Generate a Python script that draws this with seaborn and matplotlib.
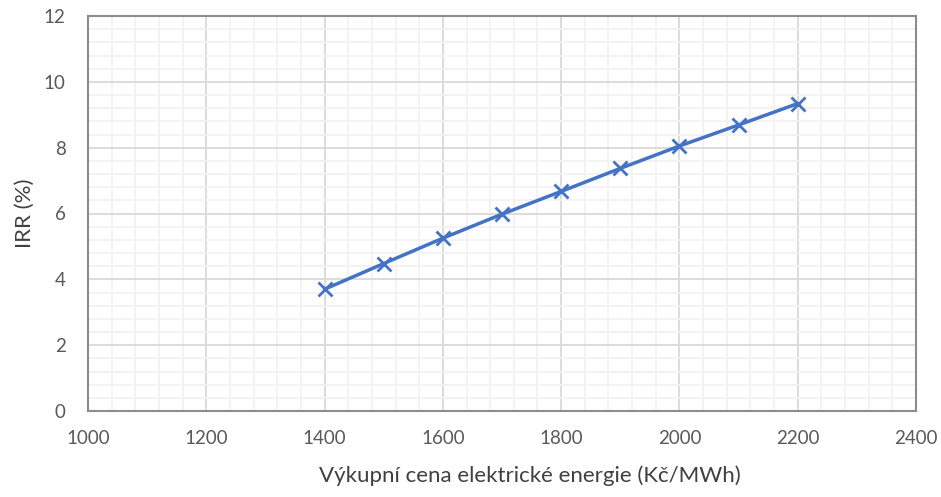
import matplotlib
matplotlib.use("Agg")
import matplotlib.pyplot as plt
import seaborn as sns
import pandas as pd
import numpy as np
from matplotlib.ticker import MultipleLocator

# Data
price = [1400, 1500, 1600, 1700, 1800, 1900, 2000, 2100, 2200]
irr = [3.70, 4.48, 5.25, 5.98, 6.67, 7.37, 8.05, 8.69, 9.34]
x_label = "Výkupní cena elektrické energie (Kč/MWh)"
y_label = "IRR (%)"

df = pd.DataFrame({"price": price, "irr": irr})

sns.set_theme(style="white")
plt.rcParams['font.family'] = ['Lato', 'DejaVu Sans']

fig = plt.figure(figsize=(9.41, 4.97), dpi=100)
ax = fig.add_axes([88/941, 1-411/497, (916-88)/941, (411-16)/497])

ax.set_xlim(1000, 2400)
ax.set_ylim(0, 12)
ax.xaxis.set_major_locator(MultipleLocator(200))
ax.xaxis.set_minor_locator(MultipleLocator(40))
ax.yaxis.set_major_locator(MultipleLocator(2))
ax.yaxis.set_minor_locator(MultipleLocator(0.4))
ax.grid(which='minor', color='#f2f2f2', linewidth=1.3, zorder=0)
ax.grid(which='major', color='#d9d9d9', linewidth=1.3, zorder=0)
ax.set_axisbelow(True)

sns.lineplot(data=df, x="price", y="irr", ax=ax, color='#4472C4', linewidth=2.5,
             marker='x', markersize=10, markeredgewidth=2, markeredgecolor='#4472C4')

for s in ax.spines.values():
    s.set_visible(True)
    s.set_color('#8c8c8c')
    s.set_linewidth(1.5)

ax.tick_params(which='both', length=0, labelsize=13.5, labelcolor='#595959')
ax.tick_params(axis='x', pad=14)
ax.tick_params(axis='y', pad=16)

ax.set_xlabel(x_label, fontsize=16, color='#404040')
ax.set_ylabel(y_label, fontsize=16, color='#404040')
ax.xaxis.set_label_coords(0.534, -0.137)
ax.yaxis.set_label_coords(-0.064, 0.5)

fig.savefig("out.png", dpi=100, facecolor='white')
